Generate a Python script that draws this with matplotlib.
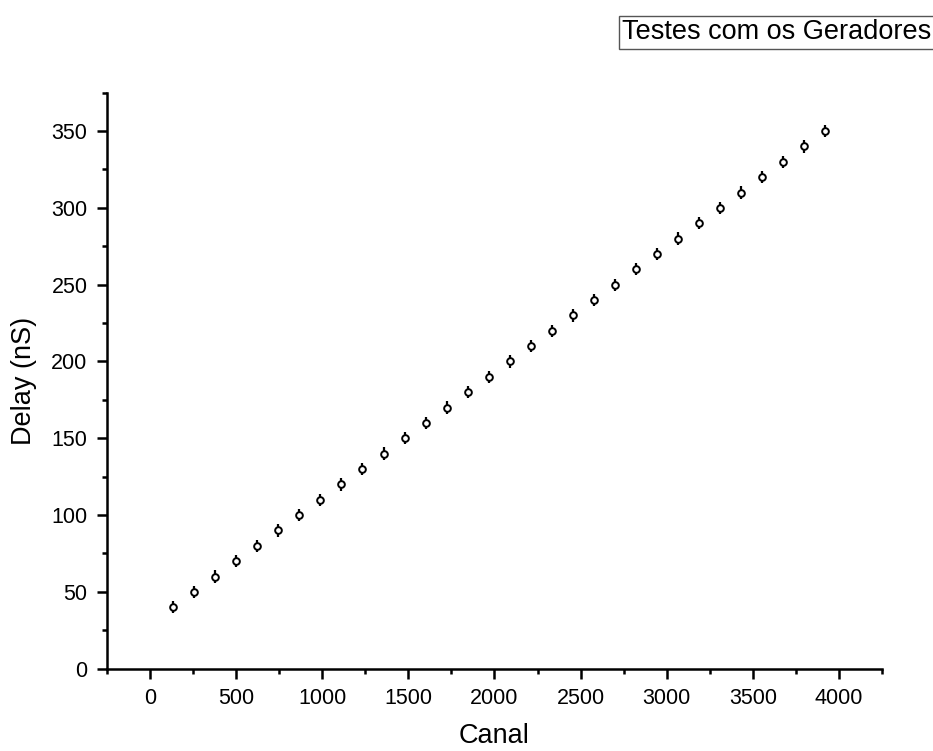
import matplotlib
matplotlib.use("Agg")
import matplotlib.pyplot as plt
from matplotlib.ticker import MultipleLocator

plt.rcParams['font.family'] = ['Liberation Sans', 'DejaVu Sans']

canal = [134, 256, 378, 500, 623, 745, 867, 989, 1111, 1233, 1356, 1478,
         1600, 1722, 1844, 1967, 2089, 2211, 2333, 2455, 2578, 2700, 2822,
         2944, 3066, 3189, 3311, 3433, 3555, 3677, 3800, 3922]
delay = [40, 50, 60, 70, 80, 90, 100, 110, 120, 130, 140, 150, 160, 170,
         180, 190, 200, 210, 220, 230, 240, 250, 260, 270, 280, 290, 300,
         310, 320, 330, 340, 350]
delay_err = [4] * len(delay)

fig = plt.figure(figsize=(9.33, 7.51), dpi=100)
ax = fig.add_axes([0.1147, 0.1096, 0.8306, 0.767])

ax.errorbar(canal, delay, yerr=delay_err, fmt='o', mfc='white', mec='black',
            ecolor='black', elinewidth=1.6, capsize=0, markersize=4.8,
            markeredgewidth=1.4)

ax.set_xlim(-250, 4250)
ax.set_ylim(0, 375)
ax.xaxis.set_major_locator(MultipleLocator(500))
ax.xaxis.set_minor_locator(MultipleLocator(250))
ax.yaxis.set_major_locator(MultipleLocator(50))
ax.yaxis.set_minor_locator(MultipleLocator(25))

for s in ['top', 'right']:
    ax.spines[s].set_visible(False)
for s in ['left', 'bottom']:
    ax.spines[s].set_linewidth(1.8)

ax.tick_params(which='major', direction='out', length=7.5, width=1.8,
               labelsize=15.5, pad=6.5)
ax.tick_params(which='minor', direction='out', length=3.8, width=1.8)

ax.set_xlabel('Canal', fontsize=19.5, labelpad=10)
ax.set_ylabel('Delay (nS)', fontsize=19.5, labelpad=10)

fig.text(0.6667, 0.957, 'Testes com os Geradores', fontsize=19.5, ha='left',
         va='center',
         bbox=dict(boxstyle='square,pad=0.12', fc='white', ec='#555555', lw=1))

fig.savefig('out.png', dpi=100)
